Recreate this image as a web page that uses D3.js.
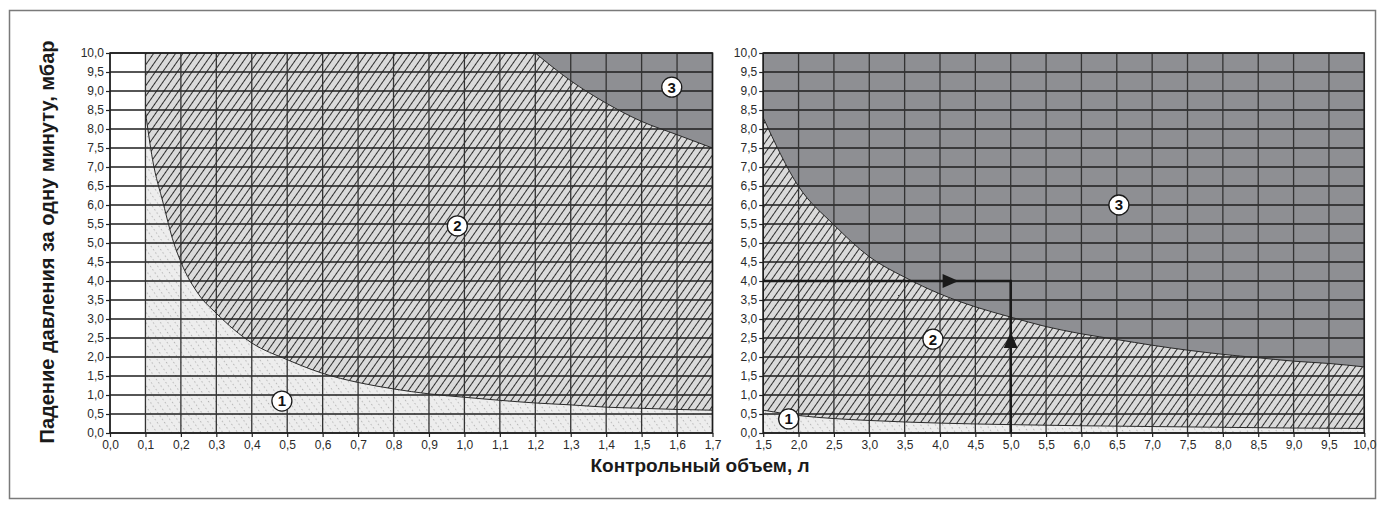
<!DOCTYPE html>
<html>
<head>
<meta charset="utf-8">
<script src="https://cdn.jsdelivr.net/npm/d3@7"></script>
<style>
  body { margin: 0; background: #fff; }
  svg { display: block; font-family: "Liberation Sans", Arial, sans-serif; }
  .tick text { font-size: 12px; fill: #2a2a2a; }
  .axis path, .axis line { stroke: #222; stroke-width: 1.2; }
</style>
</head>
<body>
<script>
// tick values
var leftXTicks = [0, 0.1, 0.2, 0.3, 0.4, 0.5, 0.6, 0.7, 0.8, 0.9, 1.0, 1.1, 1.2, 1.3, 1.4, 1.5, 1.6, 1.7];
var rightXTicks = [1.5, 2.0, 2.5, 3.0, 3.5, 4.0, 4.5, 5.0, 5.5, 6.0, 6.5, 7.0, 7.5, 8.0, 8.5, 9.0, 9.5, 10.0];
var yTicks = [0, 0.5, 1, 1.5, 2, 2.5, 3, 3.5, 4, 4.5, 5, 5.5, 6, 6.5, 7, 7.5, 8, 8.5, 9, 9.5, 10];

// boundary 1/2, left chart
var leftCurve1X = [0.1, 0.12, 0.15, 0.18, 0.2, 0.25, 0.3, 0.4, 0.5, 0.6, 0.7, 0.8, 0.9, 1.0, 1.1, 1.2, 1.3, 1.4, 1.5, 1.6, 1.7];
var leftCurve1Y = [8.45, 7.2, 6.05, 5.0, 4.5, 3.65, 3.15, 2.37, 1.93, 1.57, 1.33, 1.16, 1.03, 0.94, 0.86, 0.79, 0.74, 0.68, 0.65, 0.62, 0.6];
// boundary 2/3, left chart
var leftCurve2X = [1.2, 1.3, 1.4, 1.5, 1.6, 1.7];
var leftCurve2Y = [10.0, 9.27, 8.68, 8.2, 7.85, 7.5];

// boundary 1/2, right chart
var rightCurve1X = [1.5, 2.0, 2.5, 3.0, 3.5, 4.0, 5.0, 6.0, 7.0, 8.0, 9.0, 10.0];
var rightCurve1Y = [0.6, 0.46, 0.38, 0.33, 0.29, 0.26, 0.22, 0.19, 0.17, 0.15, 0.13, 0.12];
// boundary 2/3, right chart
var rightCurve2X = [1.5, 2.0, 2.5, 3.0, 3.5, 4.0, 4.5, 5.0, 5.5, 6.0, 6.5, 7.0, 7.5, 8.0, 8.5, 9.0, 9.5, 10.0];
var rightCurve2Y = [8.3, 6.49, 5.48, 4.64, 4.1, 3.66, 3.32, 3.05, 2.8, 2.61, 2.46, 2.31, 2.18, 2.07, 1.98, 1.89, 1.83, 1.74];

// zone markers
var leftZoneLabels = ["1", "2", "3"];
var leftZoneX = [0.485, 0.98, 1.585];
var leftZoneY = [0.84, 5.45, 9.1];
var rightZoneLabels = ["1", "2", "3"];
var rightZoneX = [1.86, 3.9, 6.53];
var rightZoneY = [0.37, 2.47, 6.0];

// example reading: 5 l volume, 4 mbar drop
var exampleVolume = 5.0;
var exampleDrop = 4.0;
var arrowHeadX = 4.15;
var arrowHeadY = 2.45;

var yTitle = "Падение давления за одну минуту, мбар";
var xTitle = "Контрольный объем, л";

var width = 1382, height = 509;

var svg = d3.select("body").append("svg")
    .attr("width", width)
    .attr("height", height);

var defs = svg.append("defs");

// zone 2: grey with "/" hatching
var p2 = defs.append("pattern")
    .attr("id", "hatch2")
    .attr("patternUnits", "userSpaceOnUse")
    .attr("width", 6).attr("height", 6)
    .attr("patternTransform", "rotate(35)");
p2.append("rect").attr("width", 6).attr("height", 6).attr("fill", "#dadada");
p2.append("line").attr("x1", 0.5).attr("x2", 0.5).attr("y1", 0).attr("y2", 6)
    .attr("stroke", "#1c1c1c").attr("stroke-width", 0.9);

// zone 1: light with faint dashed "\" lines
var p1 = defs.append("pattern")
    .attr("id", "hatch1")
    .attr("patternUnits", "userSpaceOnUse")
    .attr("width", 6).attr("height", 8)
    .attr("patternTransform", "rotate(-35)");
p1.append("rect").attr("width", 6).attr("height", 8).attr("fill", "#ededed");
p1.append("line").attr("x1", 0.5).attr("x2", 0.5).attr("y1", 0).attr("y2", 8)
    .attr("stroke", "#a5a5a5").attr("stroke-width", 0.8)
    .attr("stroke-dasharray", "1.4,2.6");

var zone3Fill = "#8e8f93";

// outer frame
svg.append("rect")
    .attr("x", 9.5).attr("y", 10.5)
    .attr("width", 1366).attr("height", 488)
    .attr("fill", "none")
    .attr("stroke", "#7a7a7a")
    .attr("stroke-width", 1.5);

var y = d3.scaleLinear().domain([0, 10]).range([433, 53]);

var fmt = function(d) { return d3.format(".1f")(d).replace(".", ","); };

function zip(xs, ys) {
  return xs.map(function(v, i) { return [v, ys[i]]; });
}

function drawPanel(x, xTicks, fillStart, c1x, c1y, c2x, c2y) {
  var g = svg.append("g");
  var x0 = x.domain()[0], x1 = x.domain()[1];
  var curve1 = zip(c1x, c1y), curve2 = zip(c2x, c2y);

  // zone 2 covers the whole filled part
  g.append("rect")
      .attr("x", x(fillStart)).attr("y", y(10))
      .attr("width", x(x1) - x(fillStart))
      .attr("height", y(0) - y(10))
      .attr("fill", "url(#hatch2)");

  // zone 3 above upper curve
  var area3 = d3.area()
      .x(function(d) { return x(d[0]); })
      .y0(y(10))
      .y1(function(d) { return y(d[1]); })
      .curve(d3.curveMonotoneX);
  g.append("path").datum(curve2).attr("d", area3).attr("fill", zone3Fill);

  // zone 1 below lower curve
  var area1 = d3.area()
      .x(function(d) { return x(d[0]); })
      .y0(y(0))
      .y1(function(d) { return y(d[1]); })
      .curve(d3.curveMonotoneX);
  g.append("path").datum(curve1).attr("d", area1).attr("fill", "url(#hatch1)");

  // grid
  g.selectAll(".hgrid").data(yTicks).enter().append("line")
      .attr("x1", x(x0)).attr("x2", x(x1))
      .attr("y1", function(d) { return y(d); })
      .attr("y2", function(d) { return y(d); })
      .attr("stroke", "#1e1e1e").attr("stroke-width", 1.3);
  g.selectAll(".vgrid").data(xTicks).enter().append("line")
      .attr("x1", function(d) { return x(d); })
      .attr("x2", function(d) { return x(d); })
      .attr("y1", y(0)).attr("y2", y(10))
      .attr("stroke", "#333").attr("stroke-width", 1.3);

  // boundary curves
  var line = d3.line()
      .x(function(d) { return x(d[0]); })
      .y(function(d) { return y(d[1]); })
      .curve(d3.curveMonotoneX);
  [curve1, curve2].forEach(function(c) {
    g.append("path").datum(c).attr("d", line)
        .attr("fill", "none").attr("stroke", "#2a2a2a").attr("stroke-width", 1);
  });

  // axes
  g.append("g")
      .attr("class", "axis")
      .attr("transform", "translate(0," + y(0) + ")")
      .call(d3.axisBottom(x).tickValues(xTicks).tickSize(4).tickPadding(3).tickFormat(fmt))
      .call(function(s) { s.select(".domain").remove(); });
  g.append("g")
      .attr("class", "axis")
      .attr("transform", "translate(" + x(x0) + ",0)")
      .call(d3.axisLeft(y).tickValues(yTicks).tickSize(4).tickPadding(2).tickFormat(fmt))
      .call(function(s) { s.select(".domain").remove(); });

  // frame of the plot
  g.append("rect")
      .attr("x", x(x0)).attr("y", y(10))
      .attr("width", x(x1) - x(x0)).attr("height", y(0) - y(10))
      .attr("fill", "none").attr("stroke", "#1e1e1e").attr("stroke-width", 1.5);

  return g;
}

function drawMarkers(g, x, labels, xs, ys) {
  labels.forEach(function(t, i) {
    g.append("circle")
        .attr("cx", x(xs[i])).attr("cy", y(ys[i])).attr("r", 10)
        .attr("fill", "#fff").attr("stroke", "#1a1a1a").attr("stroke-width", 1.3);
    g.append("text")
        .attr("x", x(xs[i])).attr("y", y(ys[i]))
        .attr("dy", "0.36em")
        .attr("text-anchor", "middle")
        .style("font-size", "15px").style("font-weight", "bold")
        .attr("fill", "#111")
        .text(t);
  });
}

var xL = d3.scaleLinear().domain([0, 1.7]).range([110, 712.5]);
var xR = d3.scaleLinear().domain([1.5, 10]).range([763.2, 1364.3]);

var gL = drawPanel(xL, leftXTicks, 0.1, leftCurve1X, leftCurve1Y, leftCurve2X, leftCurve2Y);
var gR = drawPanel(xR, rightXTicks, 1.5, rightCurve1X, rightCurve1Y, rightCurve2X, rightCurve2Y);

// example reading arrows in the right chart
var arrowColor = "#1a1a1a";
gR.append("path")
    .attr("d", "M" + xR(1.5) + "," + y(exampleDrop) + "H" + xR(exampleVolume) + "V" + y(0))
    .attr("fill", "none").attr("stroke", arrowColor).attr("stroke-width", 2.6);
var ax = xR(arrowHeadX), ay = y(exampleDrop);
gR.append("path")
    .attr("d", "M" + (ax - 8) + "," + (ay - 7) + "L" + (ax + 8) + "," + ay + "L" + (ax - 8) + "," + (ay + 7) + "Z")
    .attr("fill", arrowColor);
var bx = xR(exampleVolume), by = y(arrowHeadY);
gR.append("path")
    .attr("d", "M" + (bx - 7) + "," + (by + 8) + "L" + bx + "," + (by - 8) + "L" + (bx + 7) + "," + (by + 8) + "Z")
    .attr("fill", arrowColor);

drawMarkers(gL, xL, leftZoneLabels, leftZoneX, leftZoneY);
drawMarkers(gR, xR, rightZoneLabels, rightZoneX, rightZoneY);

// titles
svg.append("text")
    .attr("transform", "translate(54," + 242 + ") rotate(-90)")
    .attr("text-anchor", "middle")
    .style("font-size", "20px").style("font-weight", "bold")
    .attr("fill", "#1a1a1a")
    .text(yTitle);

svg.append("text")
    .attr("x", 700).attr("y", 472)
    .attr("text-anchor", "middle")
    .style("font-size", "19px").style("font-weight", "bold")
    .attr("fill", "#1a1a1a")
    .text(xTitle);
</script>
</body>
</html>
